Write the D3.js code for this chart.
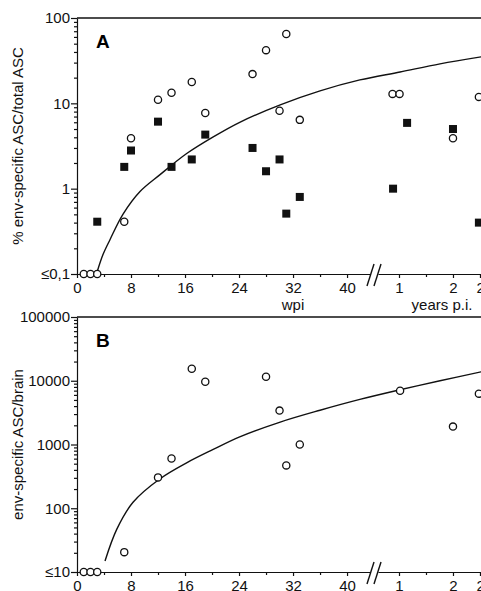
<!doctype html>
<html>
<head>
<meta charset="utf-8">
<script src="https://cdnjs.cloudflare.com/ajax/libs/d3/7.8.5/d3.min.js"></script>
<style>
    body { margin: 0; background: #fff; }
    svg { display: block; font-family: "Liberation Sans", Arial, sans-serif; }
    .domain, .tick line { stroke: #111; stroke-width: 1.2; }
    .tick text { font-size: 15px; fill: #111; }
</style>
</head>
<body>
<svg width="481" height="591"></svg>
<script>
// ---- data ----
// panel A: open circles, filled squares (weeks p.i. and years p.i.)
var aOpenWeeks = [1, 2, 3, 7, 8, 12, 14, 17, 19, 26, 28, 30, 31, 33];
var aOpenWeekVals = [0.1, 0.1, 0.1, 0.41, 3.9, 11, 13.3, 17.8, 7.7, 22, 42, 8.2, 65, 6.4];
var aOpenYears = [0.88, 1.01, 2.0, 2.48];
var aOpenYearVals = [12.9, 12.9, 3.9, 11.9];

var aSquareWeeks = [3, 7, 8, 12, 14, 17, 19, 26, 28, 30, 31, 33];
var aSquareWeekVals = [0.41, 1.8, 2.8, 6.1, 1.8, 2.2, 4.3, 3.0, 1.6, 2.2, 0.51, 0.8];
var aSquareYears = [0.89, 1.15, 2.0, 2.48];
var aSquareYearVals = [1.0, 5.9, 5.0, 0.4];

var aCurveWeeks = [3, 3.85, 4.9, 6.8, 9.3, 12.3, 16.3, 20.3, 24.1, 30.1, 36, 41.9];
var aCurveWeekVals = [0.107, 0.169, 0.254, 0.5, 0.92, 1.46, 2.6, 4.1, 6.0, 9.6, 14.0, 18.8];
var aCurveYears = [1.02, 1.76, 2.52];
var aCurveYearVals = [23.3, 29, 35];

// panel B: open circles
var bOpenWeeks = [1, 2, 3, 7, 12, 14, 17, 19, 28, 30, 31, 33];
var bOpenWeekVals = [10, 10, 10, 20.5, 305, 604, 15400, 9650, 11550, 3400, 470, 1000];
var bOpenYears = [1.02, 2.0, 2.48];
var bOpenYearVals = [6980, 1910, 6270];

var bCurveWeeks = [4.15, 5.9, 8.3, 12.3, 16.3, 20.1, 24.1, 30.1, 36, 41.9];
var bCurveWeekVals = [14.9, 47, 124, 290, 520, 830, 1320, 2250, 3450, 5100];
var bCurveYears = [1.02, 1.76, 2.52];
var bCurveYearVals = [7230, 10000, 13800];

// axis ticks
var weekTicks = [0, 8, 16, 24, 32, 40];
var weekMinor = [4, 12, 20, 28, 36];
var yearTicks = [1, 2, 2.5];
var yearLabels = ["1", "2", "2,5"];
var yearMinor = [1.5];
var aTicks = [0.1, 1, 10, 100];
var aTickLabels = ["\u22640,1", "1", "10", "100"];
var bTicks = [10, 100, 1000, 10000, 100000];
var bTickLabels = ["\u226410", "100", "1000", "10000", "100000"];

var svg = d3.select("svg");

// broken x axis: weeks part, then years part
var xw = d3.scaleLinear().domain([0, 43.4]).range([77, 370]);
var xy = d3.scaleLinear().domain([0.611, 2.519]).range([378, 481]);

function logMinor(lo, hi) {
    var out = [];
    for (var d = lo; d < hi; d *= 10)
        for (var k = 2; k < 10; k++) out.push(d * k);
    return out;
}

function panel(top, bottom, y, ticks, labels, letter, title) {
    var g = svg.append("g");

    // top frame line
    g.append("line")
        .attr("x1", 77).attr("x2", 481).attr("y1", top).attr("y2", top)
        .attr("stroke", "#111").attr("stroke-width", 1.3);

    // y axis
    g.append("g")
        .attr("transform", "translate(77,0)")
        .call(d3.axisLeft(y).tickValues(logMinor(ticks[0], ticks[ticks.length - 1])).tickSize(3).tickFormat(""))
        .select(".domain").remove();
    g.append("g")
        .attr("transform", "translate(77,0)")
        .call(d3.axisLeft(y).tickValues(ticks).tickSizeInner(6).tickSizeOuter(0).tickPadding(1)
            .tickFormat(function (d, i) { return labels[i]; }));

    // x axis, weeks
    g.append("g")
        .attr("transform", "translate(0," + bottom + ")")
        .call(d3.axisBottom(xw).tickValues(weekMinor).tickSize(3).tickFormat(""))
        .select(".domain").remove();
    g.append("g")
        .attr("transform", "translate(0," + bottom + ")")
        .call(d3.axisBottom(xw).tickValues(weekTicks).tickSizeInner(4).tickSizeOuter(0).tickPadding(4));

    // x axis, years
    g.append("g")
        .attr("transform", "translate(0," + bottom + ")")
        .call(d3.axisBottom(xy).tickValues(yearMinor).tickSize(3).tickFormat(""))
        .select(".domain").remove();
    var ya = g.append("g")
        .attr("transform", "translate(0," + bottom + ")")
        .call(d3.axisBottom(xy).tickValues(yearTicks).tickSizeInner(4).tickSizeOuter(0).tickPadding(4)
            .tickFormat(function (d, i) { return yearLabels[i]; }));
    ya.selectAll(".tick text").filter(function (d) { return d === 2.5; })
        .attr("text-anchor", "start").attr("dx", -4);

    // break marks
    [0, 7].forEach(function (off) {
        g.append("line")
            .attr("x1", 367 + off).attr("y1", bottom + 12)
            .attr("x2", 374 + off).attr("y2", bottom - 10)
            .attr("stroke", "#111").attr("stroke-width", 1.4);
    });

    // panel letter
    g.append("text")
        .attr("x", 96).attr("y", top + 30)
        .attr("font-size", 19).attr("font-weight", "bold")
        .text(letter);

    // y title
    g.append("text")
        .attr("transform", "translate(23," + ((top + bottom) / 2) + ") rotate(-90)")
        .attr("text-anchor", "middle")
        .attr("font-size", 15).attr("fill", "#111")
        .text(title);

    return g;
}

function pts(weeks, wv, years, yv) {
    var a = weeks.map(function (d, i) { return [xw(d), wv[i]]; });
    var b = years.map(function (d, i) { return [xy(d), yv[i]]; });
    return a.concat(b);
}

function drawCurve(g, y, data) {
    var line = d3.line()
        .x(function (d) { return d[0]; })
        .y(function (d) { return y(d[1]); })
        .curve(d3.curveCatmullRom.alpha(0.5));
    g.append("path").datum(data)
        .attr("d", line)
        .attr("fill", "none").attr("stroke", "#111").attr("stroke-width", 1.4);
}

function drawCircles(g, y, data) {
    g.selectAll(null).data(data).enter().append("circle")
        .attr("cx", function (d) { return d[0]; })
        .attr("cy", function (d) { return y(d[1]); })
        .attr("r", 3.6)
        .attr("fill", "#fff").attr("stroke", "#111").attr("stroke-width", 1.3);
}

function drawSquares(g, y, data) {
    g.selectAll(null).data(data).enter().append("rect")
        .attr("x", function (d) { return d[0] - 4; })
        .attr("y", function (d) { return y(d[1]) - 4; })
        .attr("width", 8).attr("height", 8)
        .attr("fill", "#111");
}

// ---- panel A ----
var yA = d3.scaleLog().domain([0.1, 100]).range([274, 18]);
var gA = panel(18, 274, yA, aTicks, aTickLabels, "A", "% env-specific ASC/total ASC");
drawCurve(gA, yA, pts(aCurveWeeks, aCurveWeekVals, aCurveYears, aCurveYearVals));
drawSquares(gA, yA, pts(aSquareWeeks, aSquareWeekVals, aSquareYears, aSquareYearVals));
drawCircles(gA, yA, pts(aOpenWeeks, aOpenWeekVals, aOpenYears, aOpenYearVals));

gA.append("text").attr("x", 293).attr("y", 310).attr("text-anchor", "middle")
    .attr("font-size", 15).attr("fill", "#111").text("wpi");
gA.append("text").attr("x", 442).attr("y", 310).attr("text-anchor", "middle")
    .attr("font-size", 15).attr("fill", "#111").text("years p.i.");

// ---- panel B ----
var yB = d3.scaleLog().domain([10, 100000]).range([572, 317]);
var gB = panel(317, 572, yB, bTicks, bTickLabels, "B", "env-specific ASC/brain");
drawCurve(gB, yB, pts(bCurveWeeks, bCurveWeekVals, bCurveYears, bCurveYearVals));
drawCircles(gB, yB, pts(bOpenWeeks, bOpenWeekVals, bOpenYears, bOpenYearVals));
</script>
</body>
</html>
